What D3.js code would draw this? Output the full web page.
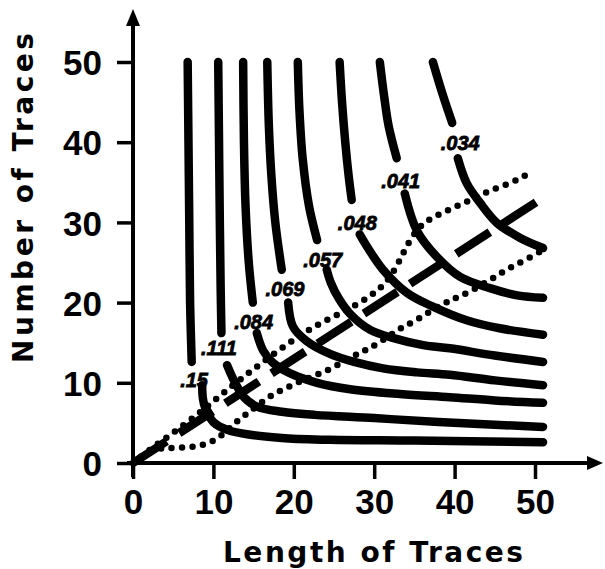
<!DOCTYPE html>
<html>
<head>
<meta charset="utf-8">
<script src="https://cdn.jsdelivr.net/npm/d3@7"></script>
<style>
  html, body { margin: 0; padding: 0; background: #fff; }
  svg { display: block; }
</style>
</head>
<body>
<svg id="chart" width="605" height="569"></svg>
<script>
// Tick values on both axes
const xTicks = [0, 10, 20, 30, 40, 50];
const yTicks = [0, 10, 20, 30, 40, 50];

// Contour levels (labels written at the break of each curve)
const levels = [".15", ".111", ".084", ".069", ".057", ".048", ".041", ".034"];

// Upper (near-vertical) branch of each contour: [length, number]
const upperBranches = [
  [[6.8, 50], [6.9, 40], [7.0, 30], [7.1, 20], [7.3, 12.6]],
  [[10.6, 50], [10.7, 40], [10.8, 30], [10.9, 22], [11.0, 16.2]],
  [[13.7, 50], [13.8, 40], [14.0, 32], [14.4, 25], [14.9, 20.0]],
  [[16.7, 50], [16.9, 42], [17.2, 36], [17.7, 30], [18.5, 24.1]],
  [[20.5, 50], [20.7, 44], [21.1, 38], [21.9, 32], [22.9, 27.8]],
  [[25.7, 50], [26.0, 45], [26.4, 40], [26.8, 36], [27.2, 32.8]],
  [[30.7, 50], [31.2, 46], [31.8, 42], [32.8, 38.0]],
  [[37.3, 50], [38.5, 46], [39.7, 42.4]]
];

// Lower branch of each contour, bending over to the right edge
const lowerBranches = [
  [[8.6, 9.7], [8.7, 8.0], [9.0, 6.8], [10.0, 5.1], [11.8, 4.1], [14.8, 3.5], [18.9, 3.1], [24.5, 2.9], [35, 2.8], [51, 2.6]],
  [[11.7, 12.2], [12.7, 10.0], [13.9, 8.1], [15.5, 7.0], [18.5, 6.4], [22.6, 6.0], [30, 5.6], [38, 5.1], [51, 4.5]],
  [[15.4, 16.2], [16.2, 14.0], [17.4, 12.5], [19.5, 11.2], [22.9, 10.0], [27.0, 9.2], [33.2, 8.6], [39.4, 8.2], [45, 7.8], [51, 7.5]],
  [[19.3, 20.0], [19.9, 17.0], [21.6, 15.2], [24.5, 13.6], [27.5, 12.6], [31.1, 11.8], [35.3, 11.3], [39.4, 11.0], [45, 10.3], [51, 9.7]],
  [[24.1, 24.1], [24.6, 22.5], [25.6, 20.5], [27.0, 18.6], [29.5, 16.6], [32.3, 15.6], [36.1, 14.7], [39.4, 14.3], [45, 13.4], [51, 12.6]],
  [[28.2, 28.5], [29.1, 27.0], [31.1, 24.1], [34.1, 21.2], [37.3, 19.5], [41.5, 17.8], [45.6, 16.8], [51, 16.0]],
  [[33.8, 33.6], [35.3, 29.0], [37.8, 25.7], [40.7, 23.2], [44.4, 21.8], [47.8, 20.9], [51, 20.6]],
  [[40.4, 38.0], [41.5, 34.9], [43.2, 32.4], [45.3, 29.9], [48.1, 28.1], [51, 26.8]]
];

// Where each level label sits
const labelPositions = [
  [7.6, 10.4], [10.7, 14.3], [15.0, 17.6], [18.9, 21.7],
  [23.6, 25.3], [27.9, 29.9], [33.3, 35.2], [40.7, 39.9]
];

// Long-dashed diagonal through the origin
const dashedLine = [[0, 0], [51.5, 33.4]];

// Dotted bounds on either side of the diagonal
const upperDotted = [[0, 0], [2.5, 2.0], [7.3, 5.4], [11.4, 8.9], [16.0, 12.5], [21.6, 16.6], [26.1, 18.8],
  [29.5, 20.7], [31.8, 22.7], [33.2, 25.3], [34.1, 27.2], [35.3, 29.1], [36.6, 30.3], [39.1, 31.5],
  [42.0, 32.8], [44.4, 34.0], [47.3, 35.0], [49.6, 36.3]];
const lowerDotted = [[3.5, 1.8], [5.6, 1.9], [8.1, 2.0], [10.6, 2.9], [12.6, 5.0], [14.8, 6.6], [17.0, 8.4],
  [19.3, 9.5], [22.0, 10.7], [24.5, 11.6], [27.0, 13.2], [29.1, 14.1], [31.1, 15.3], [33.2, 16.8],
  [35.3, 17.8], [38.6, 20.0], [40.7, 20.7], [44.4, 22.8], [46.9, 24.4], [49.4, 25.6], [51, 26.6]];

const svg = d3.select("#chart");

const x = d3.scaleLinear().domain([0, 50]).range([133, 535]);
const y = d3.scaleLinear().domain([0, 50]).range([463, 62]);

const sansBold = "'Liberation Sans', Arial, sans-serif";
const wideBold = "'DejaVu Sans', sans-serif";

// Axes: ticks and labels through d3-axis, domain lines drawn separately with arrowheads
const xAxis = d3.axisBottom(x).tickValues(xTicks).tickSize(16).tickSizeOuter(0).tickPadding(10);
const yAxis = d3.axisLeft(y).tickValues(yTicks).tickSize(16).tickSizeOuter(0).tickPadding(15);

const gx = svg.append("g").attr("transform", `translate(0,${y(0)})`).call(xAxis);
const gy = svg.append("g").attr("transform", `translate(${x(0)},0)`).call(yAxis);
[gx, gy].forEach(g => {
  g.select(".domain").remove();
  g.selectAll(".tick line").attr("stroke", "#000").attr("stroke-width", 3.5);
  g.selectAll(".tick text")
    .style("font-family", sansBold)
    .style("font-weight", "bold")
    .style("font-size", "35px")
    .attr("fill", "#000");
});
gx.selectAll(".tick text").attr("dy", "0.71em");
gy.selectAll(".tick text").attr("dy", "0.36em");

// Axis lines
svg.append("line")
  .attr("x1", x(0) - 6).attr("y1", y(0)).attr("x2", 592).attr("y2", y(0))
  .attr("stroke", "#000").attr("stroke-width", 4);
svg.append("line")
  .attr("x1", x(0)).attr("y1", y(0) + 14).attr("x2", x(0)).attr("y2", 22)
  .attr("stroke", "#000").attr("stroke-width", 4);
// Arrowheads
svg.append("path")
  .attr("d", `M603,${y(0)} L587,${y(0) - 7} L587,${y(0) + 7} Z`)
  .attr("fill", "#000");
svg.append("path")
  .attr("d", `M${x(0)},9 L${x(0) - 7},26 L${x(0) + 7},26 Z`)
  .attr("fill", "#000");

// Axis titles
svg.append("text")
  .attr("x", 373).attr("y", 562)
  .attr("text-anchor", "middle")
  .style("font-family", wideBold)
  .style("font-weight", "bold")
  .style("font-size", "28px")
  .attr("textLength", 300).attr("lengthAdjust", "spacing")
  .text("Length of Traces");
svg.append("text")
  .attr("transform", "translate(33,198) rotate(-90)")
  .attr("text-anchor", "middle")
  .style("font-family", wideBold)
  .style("font-weight", "bold")
  .style("font-size", "28px")
  .attr("textLength", 330).attr("lengthAdjust", "spacing")
  .text("Number of Traces");

const smooth = d3.line().x(d => x(d[0])).y(d => y(d[1])).curve(d3.curveCatmullRom.alpha(0.5));
const soft = d3.line().x(d => x(d[0])).y(d => y(d[1])).curve(d3.curveBasis);

// Dotted bounds
svg.append("g").selectAll("path")
  .data([upperDotted, lowerDotted])
  .join("path")
  .attr("d", soft)
  .attr("fill", "none")
  .attr("stroke", "#000")
  .attr("stroke-width", 6.5)
  .attr("stroke-linecap", "round")
  .attr("stroke-dasharray", "0,10.5");

// Long-dashed diagonal
svg.append("path")
  .attr("d", smooth(dashedLine))
  .attr("fill", "none")
  .attr("stroke", "#000")
  .attr("stroke-width", 8.5)
  .attr("stroke-dasharray", "40,15");

// Contour branches
const contours = svg.append("g")
  .attr("fill", "none")
  .attr("stroke", "#000")
  .attr("stroke-width", 8.5)
  .attr("stroke-linecap", "round")
  .attr("stroke-linejoin", "round");
contours.selectAll("path.upper")
  .data(upperBranches)
  .join("path").attr("class", "upper")
  .attr("d", smooth);
contours.selectAll("path.lower")
  .data(lowerBranches)
  .join("path").attr("class", "lower")
  .attr("d", smooth);

// Level labels
svg.append("g").selectAll("text")
  .data(levels)
  .join("text")
  .attr("x", (d, i) => x(labelPositions[i][0]))
  .attr("y", (d, i) => y(labelPositions[i][1]))
  .attr("dy", "0.35em")
  .attr("text-anchor", "middle")
  .style("font-family", sansBold)
  .style("font-weight", "bold")
  .style("font-style", "italic")
  .style("font-size", "20px")
  .attr("fill", "#000")
  .attr("stroke", "#000")
  .attr("stroke-width", 0.8)
  .text(d => d);
</script>
</body>
</html>
